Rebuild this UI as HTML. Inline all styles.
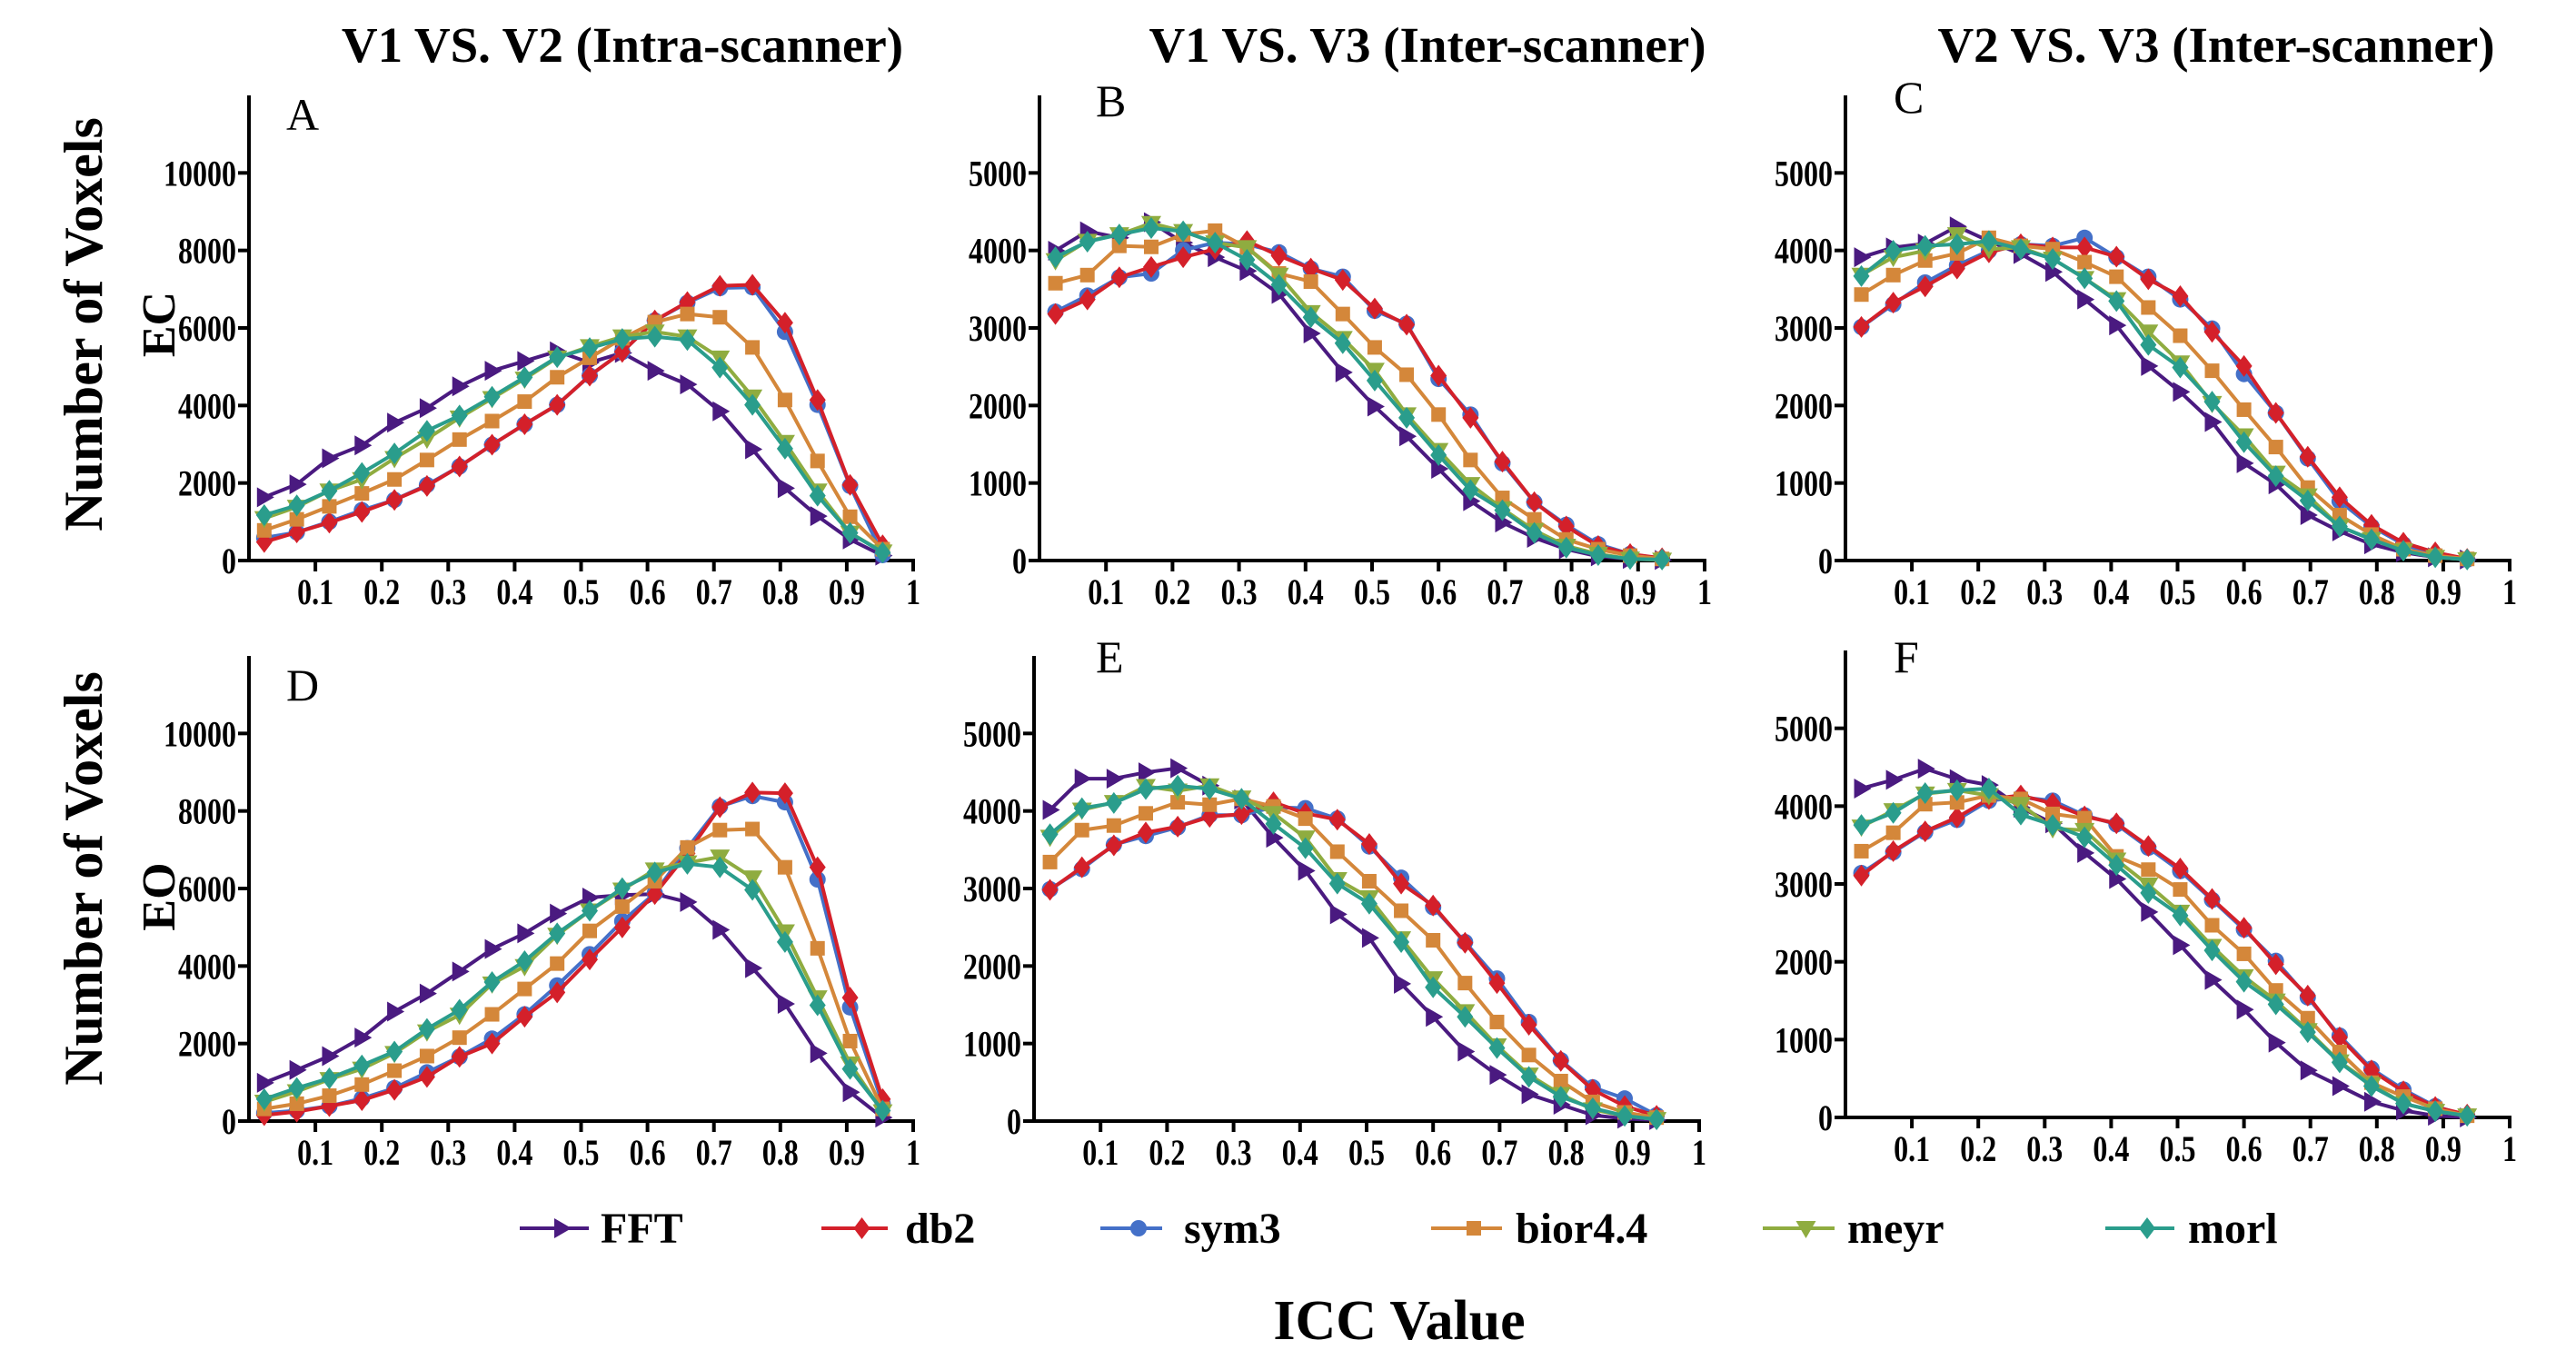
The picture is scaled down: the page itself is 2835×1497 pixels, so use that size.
<!DOCTYPE html>
<html><head><meta charset="utf-8"><style>
html,body{margin:0;padding:0;background:#fff;}
svg{display:block;}
text{font-family:"Liberation Serif",serif;}
</style></head><body>
<svg id="fig" width="2835" height="1497" viewBox="0 0 2835 1497" xmlns="http://www.w3.org/2000/svg">
<g font-weight="bold" font-size="55" text-anchor="middle">
<text x="685" y="68">V1 VS. V2 (Intra-scanner)</text>
<text x="1571" y="68">V1 VS. V3 (Inter-scanner)</text>
<text x="2439" y="68">V2 VS. V3 (Inter-scanner)</text>
</g>
<text font-weight="bold" font-size="60" text-anchor="middle" transform="translate(112,357) rotate(-90)">Number of Voxels</text>
<text font-weight="bold" font-size="52" text-anchor="middle" transform="translate(192,357) rotate(-90)">EC</text>
<text font-weight="bold" font-size="60" text-anchor="middle" transform="translate(112,967) rotate(-90)">Number of Voxels</text>
<text font-weight="bold" font-size="52" text-anchor="middle" transform="translate(192,987) rotate(-90)">EO</text>
<text font-weight="bold" font-size="62" text-anchor="middle" x="1540" y="1474">ICC Value</text>
<g id="panels"></g>
<g id="legend"></g>
</svg>
<script>
const seriesNames = ["FFT","sym3","db2","bior4.4","meyr","morl"];
const xA = [0.023,0.072,0.121,0.170,0.219,0.268,0.317,0.366,0.415,0.464,0.513,0.562,0.611,0.660,0.709,0.758,0.807,0.856,0.905,0.954];
const xB = [0.024,0.072,0.120,0.168,0.216,0.264,0.312,0.360,0.408,0.456,0.504,0.552,0.600,0.648,0.696,0.744,0.792,0.840,0.888,0.936];
const xTicks = ["0.1","0.2","0.3","0.4","0.5","0.6","0.7","0.8","0.9","1"];
const yTicksBig = [0,2000,4000,6000,8000,10000];
const yTicksSmall = [0,1000,2000,3000,4000,5000];

const A_FFT=[1632,1967,2636,2971,3556,3933,4494,4895,5146,5397,5105,5356,4895,4544,3849,2870,1866,1146,544,126];
const A_db2=[477,728,979,1255,1565,1925,2427,2987,3515,4017,4770,5381,6192,6669,7088,7113,6134,4142,1950,393];
const A_sym3=[586,728,1000,1300,1565,1950,2427,2987,3515,4017,4770,5381,6192,6650,7030,7050,5900,4017,1925,142];
const A_bior=[778,1063,1397,1732,2092,2594,3121,3598,4100,4728,5230,5732,6151,6360,6276,5498,4142,2569,1130,293];
const A_meyr=[1088,1381,1799,2092,2636,3138,3682,4184,4686,5230,5523,5774,5900,5774,5230,4226,3054,1799,711,226];
const A_morl=[1172,1423,1799,2259,2762,3347,3741,4226,4728,5247,5481,5715,5774,5690,4979,4017,2887,1674,711,209];

const B_FFT=[3996,4247,4163,4364,4100,3912,3736,3439,2929,2427,1987,1603,1184,766,490,293,146,54,21,8];
const B_db2=[3180,3368,3653,3787,3912,4017,4121,3933,3766,3619,3251,3042,2385,1841,1276,753,439,188,84,29];
const B_sym3=[3209,3418,3653,3703,4004,4100,4079,3975,3766,3661,3222,3054,2343,1883,1255,753,460,209,84,21];
const B_bior=[3577,3682,4059,4046,4205,4255,4038,3703,3598,3180,2749,2397,1883,1297,808,531,272,146,63,21];
const B_meyr=[3870,4121,4205,4351,4247,4100,4038,3682,3201,2866,2456,1883,1423,983,669,389,188,84,21,8];
const B_morl=[3912,4113,4205,4289,4247,4100,3879,3556,3138,2803,2322,1841,1360,908,649,356,167,71,21,13];

const C_FFT=[3912,4038,4088,4310,4121,3954,3724,3368,3033,2510,2176,1787,1255,983,586,377,209,105,42,13];
const C_db2=[3013,3326,3536,3766,3975,4079,4038,4038,3920,3628,3410,2950,2510,1904,1339,816,460,230,105,21];
const C_sym3=[3013,3305,3586,3808,3996,4079,4059,4163,3912,3661,3368,2992,2406,1904,1318,766,439,209,71,13];
const C_bior=[3431,3682,3870,3962,4163,4059,4017,3849,3661,3264,2900,2448,1946,1464,941,586,335,146,63,21];
const C_meyr=[3682,3912,3996,4205,4017,4038,3891,3640,3368,2950,2552,2029,1611,1130,837,439,272,126,42,13];
const C_morl=[3669,3996,4059,4079,4121,4017,3891,3640,3347,2782,2490,2050,1527,1088,774,439,272,126,42,13];

const D_FFT=[987,1318,1677,2152,2825,3291,3857,4439,4843,5354,5767,5830,5857,5650,4933,3946,3022,1749,744,90];
const D_db2=[152,242,386,538,807,1139,1659,2000,2691,3318,4170,4996,5857,6906,8099,8475,8457,6547,3184,565];
const D_sym3=[206,269,386,583,852,1256,1659,2126,2753,3498,4305,5157,5874,7040,8117,8386,8224,6233,2933,448];
const D_bior=[314,448,655,942,1300,1677,2152,2753,3408,4063,4906,5534,6188,7058,7507,7534,6547,4457,2063,314];
const D_meyr=[493,762,1076,1345,1749,2305,2735,3543,3991,4798,5426,5964,6484,6664,6816,6278,4888,3184,1480,242];
const D_morl=[565,852,1103,1435,1794,2377,2870,3587,4126,4843,5426,6009,6413,6637,6547,5964,4619,2987,1345,269];

const E_FFT=[4013,4417,4417,4498,4552,4327,4148,3655,3229,2668,2363,1771,1345,897,596,345,211,76,31,13];
const E_db2=[2982,3274,3556,3722,3798,3924,3960,4112,3969,3888,3574,3063,2780,2300,1780,1242,776,404,193,67];
const E_sym3=[2991,3251,3565,3677,3789,3946,3946,4049,4036,3901,3543,3139,2758,2309,1839,1278,785,435,291,76];
const E_bior=[3341,3753,3812,3969,4112,4081,4157,4058,3901,3475,3094,2713,2332,1780,1278,852,516,247,112,45];
const E_meyr=[3664,4013,4112,4318,4260,4327,4170,3969,3655,3117,2883,2354,1839,1413,973,596,345,148,67,22];
const E_morl=[3700,4036,4103,4283,4327,4283,4157,3834,3520,3063,2803,2309,1726,1345,942,570,314,166,67,22];

const F_FFT=[4226,4338,4481,4347,4271,3980,3779,3399,3064,2639,2214,1767,1386,961,604,403,201,89,22,0];
const F_db2=[3108,3421,3676,3855,4092,4137,4034,3868,3779,3488,3198,2808,2437,1968,1565,1029,604,335,134,36];
const F_sym3=[3140,3408,3667,3824,4070,4115,4070,3882,3766,3466,3166,2795,2415,2012,1543,1051,626,358,143,22];
const F_bior=[3421,3658,4025,4047,4137,4092,3900,3846,3354,3184,2929,2469,2102,1632,1275,841,447,268,112,22];
const F_meyr=[3734,3944,4159,4204,4137,4025,3712,3690,3310,2988,2639,2200,1811,1498,1118,716,425,179,80,22];
const F_morl=[3757,3913,4168,4204,4226,3891,3757,3600,3242,2885,2594,2147,1744,1453,1096,707,402,179,80,22];

const colors = {"FFT":"#4a1a80","db2":"#d4202a","sym3":"#4470c8","bior4.4":"#d4873a","meyr":"#8fac40","morl":"#2a9d8c"};
const shapes = {"FFT":"tri-right","db2":"diamond","sym3":"circle","bior4.4":"square","meyr":"tri-down","morl":"diamond"};

const panels = [
 {id:"A",x0:274,x1:1005,y0:617,yTop:105,ymax:12000,ticks:yTicksBig,xs:xA,data:[A_FFT,A_sym3,A_db2,A_bior,A_meyr,A_morl],lx:315,ly:143},
 {id:"B",x0:1144,x1:1876,y0:617,yTop:105,ymax:6000,ticks:yTicksSmall,xs:xB,data:[B_FFT,B_sym3,B_db2,B_bior,B_meyr,B_morl],lx:1206,ly:128},
 {id:"C",x0:2031,x1:2762,y0:617,yTop:105,ymax:6000,ticks:yTicksSmall,xs:xB,data:[C_FFT,C_sym3,C_db2,C_bior,C_meyr,C_morl],lx:2084,ly:124},
 {id:"D",x0:274,x1:1005,y0:1234,yTop:722,ymax:12000,ticks:yTicksBig,xs:xA,data:[D_FFT,D_sym3,D_db2,D_bior,D_meyr,D_morl],lx:315,ly:771},
 {id:"E",x0:1138,x1:1870,y0:1234,yTop:722,ymax:6000,ticks:yTicksSmall,xs:xB,data:[E_FFT,E_sym3,E_db2,E_bior,E_meyr,E_morl],lx:1206,ly:740},
 {id:"F",x0:2031,x1:2762,y0:1230,yTop:716,ymax:6000,ticks:yTicksSmall,xs:xB,data:[F_FFT,F_sym3,F_db2,F_bior,F_meyr,F_morl],lx:2084,ly:740}
];
const NS="http://www.w3.org/2000/svg";
function mk(tag, attrs, parent){const e=document.createElementNS(NS,tag);for(const k in attrs)e.setAttribute(k,attrs[k]);parent.appendChild(e);return e;}
function marker(shape, cx, cy, col, parent){
  let e;
  if(shape==="circle") e=mk("circle",{cx:cx,cy:cy,r:9,fill:col},parent);
  else if(shape==="square") e=mk("rect",{x:cx-8,y:cy-8,width:16,height:16,fill:col},parent);
  else if(shape==="diamond") e=mk("polygon",{points:`${cx},${cy-12} ${cx+9},${cy} ${cx},${cy+12} ${cx-9},${cy}`,fill:col},parent);
  else if(shape==="tri-right") e=mk("polygon",{points:`${cx-8},${cy-11} ${cx+11},${cy} ${cx-8},${cy+11}`,fill:col},parent);
  else e=mk("polygon",{points:`${cx-11},${cy-8} ${cx+11},${cy-8} ${cx},${cy+11}`,fill:col},parent);
  return e;
}
const root=document.getElementById("panels");
panels.forEach(p=>{
  const g=mk("g",{},root);
  
  
  const sx=v=>p.x0+(p.x1-p.x0)*v;
  const sy=v=>p.y0-(p.y0-p.yTop)*v/p.ymax;
  const ax=mk("g",{stroke:"#000","stroke-width":4,fill:"none"},g);
  
  
  mk("line",{x1:p.x0,y1:p.yTop,x2:p.x0,y2:p.y0+2},ax);
  mk("line",{x1:p.x0-2,y1:p.y0,x2:p.x1+2,y2:p.y0},ax);
  xTicks.forEach(t=>{const X=sx(parseFloat(t));mk("line",{x1:X,y1:p.y0,x2:X,y2:p.y0+12},ax);
    const tx=mk("text",{transform:`translate(${X},${p.y0+48}) scale(0.8,1)`,"font-size":40,"font-weight":"bold","text-anchor":"middle",fill:"#000"},g);
    
    
    tx.textContent=t;});
  p.ticks.forEach(t=>{const Y=sy(t);mk("line",{x1:p.x0-12,y1:Y,x2:p.x0,y2:Y},ax);
    const tx=mk("text",{transform:`translate(${p.x0-14},${Y+14}) scale(0.8,1)`,"font-size":40,"font-weight":"bold","text-anchor":"end",fill:"#000"},g);
    
    
    tx.textContent=String(t);});
  const lt=mk("text",{x:p.lx,y:p.ly,"font-size":50,fill:"#000"},g);
  
  
  lt.textContent=p.id;
  p.data.forEach((vals,i)=>{
    const nm=seriesNames[i],col=colors[nm];
    const sg=mk("g",{},g);
    
    
    const pts=vals.map((v,k)=>sx(p.xs[k])+","+sy(v)).join(" ");
    mk("polyline",{points:pts,fill:"none",stroke:col,"stroke-width":4,"stroke-linejoin":"round"},sg);
    vals.forEach((v,k)=>{const m=marker(shapes[nm],sx(p.xs[k]),sy(v),col,sg);
      
      });
  });
});
const leg=document.getElementById("legend");
const legendItems=[["FFT",572,648,661],["db2",904,977,996],["sym3",1211,1279,1303],["bior4.4",1575,1653,1668],["meyr",1940,2019,2033],["morl",2317,2393,2408]];
legendItems.forEach(it=>{
  const nm=it[0],col=colors[nm];
  const g=mk("g",{},leg);
  
  
  mk("line",{x1:it[1],y1:1352,x2:it[2],y2:1352,stroke:col,"stroke-width":4},g);
  marker(shapes[nm],(it[1]+it[2])/2+8,1352,col,g);
  const t=mk("text",{x:it[3],y:1368,"font-size":48,"font-weight":"bold",fill:"#000"},g);
  t.textContent=nm;
});
</script>
</body></html>
